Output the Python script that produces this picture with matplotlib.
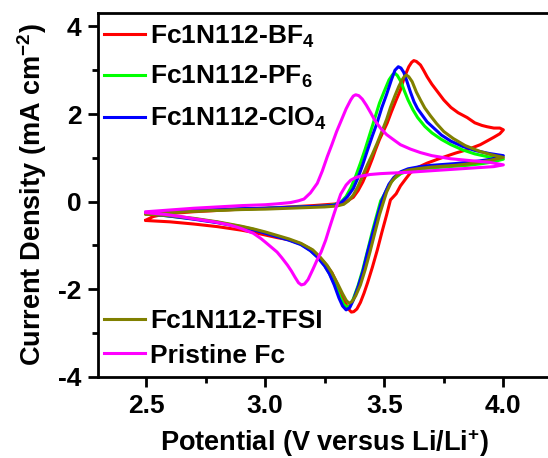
import matplotlib
matplotlib.use('Agg')
import matplotlib.pyplot as plt
from matplotlib.ticker import MultipleLocator

# ---------------- data ----------------
labels = [r'Fc1N112-BF$_\mathbf{4}$', r'Fc1N112-PF$_\mathbf{6}$', r'Fc1N112-ClO$_\mathbf{4}$',
          'Fc1N112-TFSI', 'Pristine Fc']
colors = ['#ff0000', '#00ff00', '#0000ff', '#808000', '#ff00ff']

# BF4 (red): forward then reverse scan
bf4_v = [2.50, 2.53, 2.58, 2.70, 2.80, 2.90, 3.00, 3.10, 3.20, 3.25, 3.30, 3.34, 3.37, 3.39, 3.41,
         3.43, 3.45, 3.463, 3.48, 3.50, 3.512, 3.53, 3.55, 3.568, 3.585, 3.603, 3.615, 3.624, 3.635,
         3.652, 3.665, 3.68, 3.70, 3.725, 3.75, 3.78, 3.81, 3.848, 3.88, 3.91, 3.932, 3.96, 3.985, 4.00,
         3.985, 3.96, 3.93, 3.903, 3.85, 3.80, 3.778, 3.73, 3.68, 3.64, 3.61, 3.59, 3.568, 3.55, 3.526,
         3.51, 3.49, 3.471, 3.45, 3.43, 3.415, 3.40, 3.385, 3.372, 3.362, 3.35, 3.335, 3.32, 3.30, 3.28,
         3.25, 3.22, 3.19, 3.15, 3.10, 3.05, 3.00, 2.95, 2.90, 2.85, 2.80, 2.70, 2.60, 2.50]
bf4_i = [-0.42, -0.34, -0.28, -0.23, -0.20, -0.17, -0.15, -0.12, -0.09, -0.07, -0.05, 0.00, 0.10, 0.25, 0.45,
         0.70, 0.98, 1.18, 1.42, 1.65, 1.79, 2.05, 2.32, 2.55, 2.85, 3.08, 3.18, 3.22, 3.20,
         3.12, 3.00, 2.85, 2.68, 2.50, 2.32, 2.15, 2.03, 1.92, 1.80, 1.74, 1.71, 1.68, 1.68, 1.64,
         1.55, 1.47, 1.38, 1.30, 1.19, 1.11, 1.07, 0.98, 0.88, 0.78, 0.66, 0.52, 0.36, 0.18, 0.04,
         -0.30, -0.70, -1.10, -1.50, -1.85, -2.09, -2.30, -2.45, -2.51, -2.52, -2.45, -2.30, -2.10, -1.85, -1.62,
         -1.40, -1.22, -1.08, -0.96, -0.87, -0.82, -0.76, -0.70, -0.65, -0.61, -0.57, -0.51, -0.46, -0.43]

# PF6 (green)
pf6_v = [2.50, 2.60, 2.70, 2.80, 2.90, 3.00, 3.10, 3.20, 3.25, 3.29, 3.32, 3.34, 3.36, 3.38, 3.40,
         3.42, 3.44, 3.46, 3.48, 3.50, 3.52, 3.535, 3.545, 3.555, 3.57, 3.585, 3.60, 3.62, 3.64, 3.67,
         3.70, 3.74, 3.78, 3.83, 3.88, 3.94, 4.00,
         3.95, 3.90, 3.85, 3.80, 3.75, 3.70, 3.65, 3.60, 3.57, 3.54, 3.52, 3.50, 3.485, 3.47, 3.45,
         3.43, 3.41, 3.39, 3.37, 3.355, 3.345, 3.33, 3.315, 3.295, 3.27, 3.25, 3.22, 3.19, 3.15, 3.10,
         3.05, 3.00, 2.95, 2.90, 2.85, 2.80, 2.70, 2.60, 2.50]
pf6_i = [-0.27, -0.24, -0.21, -0.19, -0.17, -0.15, -0.13, -0.11, -0.10, -0.07, 0.00, 0.12, 0.32, 0.58, 0.88,
         1.20, 1.55, 1.90, 2.25, 2.52, 2.78, 2.90, 2.93, 2.88, 2.74, 2.52, 2.32, 2.10, 1.92, 1.72,
         1.57, 1.42, 1.30, 1.18, 1.09, 1.02, 0.97,
         0.90, 0.86, 0.83, 0.81, 0.79, 0.77, 0.75, 0.70, 0.64, 0.52, 0.38, 0.16, 0.02, -0.28, -0.68,
         -1.12, -1.55, -1.92, -2.22, -2.38, -2.41, -2.34, -2.18, -1.92, -1.64, -1.46, -1.26, -1.11, -0.97, -0.87,
         -0.79, -0.71, -0.63, -0.57, -0.52, -0.47, -0.39, -0.33, -0.27]

# ClO4 (blue)
clo4_v = [2.50, 2.60, 2.70, 2.80, 2.90, 3.00, 3.10, 3.20, 3.25, 3.29, 3.32, 3.345, 3.37, 3.39, 3.41,
          3.43, 3.45, 3.47, 3.49, 3.51, 3.53, 3.545, 3.559, 3.57, 3.582, 3.595, 3.61, 3.625, 3.64, 3.66,
          3.68, 3.70, 3.74, 3.78, 3.83, 3.88, 3.94, 4.00,
          3.95, 3.90, 3.85, 3.80, 3.75, 3.70, 3.65, 3.60, 3.568, 3.54, 3.52, 3.50, 3.49, 3.47, 3.45,
          3.43, 3.41, 3.39, 3.37, 3.355, 3.34, 3.325, 3.31, 3.29, 3.27, 3.25, 3.22, 3.19, 3.15, 3.10,
          3.05, 3.00, 2.95, 2.90, 2.85, 2.80, 2.70, 2.60, 2.50]
clo4_i = [-0.26, -0.23, -0.20, -0.18, -0.16, -0.15, -0.13, -0.11, -0.10, -0.08, -0.02, 0.11, 0.30, 0.55, 0.85,
          1.18, 1.50, 1.80, 2.15, 2.45, 2.78, 3.00, 3.08, 3.05, 2.95, 2.75, 2.50, 2.28, 2.12, 1.97,
          1.82, 1.72, 1.52, 1.38, 1.26, 1.17, 1.10, 1.05,
          0.97, 0.93, 0.90, 0.87, 0.85, 0.83, 0.80, 0.75, 0.68, 0.55, 0.40, 0.16, 0.02, -0.35, -0.75,
          -1.15, -1.60, -1.95, -2.25, -2.42, -2.47, -2.38, -2.20, -1.90, -1.65, -1.47, -1.27, -1.12, -0.98, -0.88,
          -0.80, -0.72, -0.64, -0.58, -0.53, -0.48, -0.40, -0.33, -0.27]

# TFSI (olive)
tfsi_v = [2.50, 2.60, 2.70, 2.80, 2.90, 3.00, 3.10, 3.20, 3.25, 3.30, 3.33, 3.35, 3.37, 3.39, 3.41,
          3.43, 3.45, 3.47, 3.49, 3.51, 3.526, 3.545, 3.561, 3.575, 3.585, 3.593, 3.603, 3.617, 3.635,
          3.652, 3.67, 3.694, 3.72, 3.75, 3.79, 3.84, 3.90, 3.95, 4.00,
          3.95, 3.90, 3.85, 3.80, 3.75, 3.70, 3.65, 3.60, 3.57, 3.55, 3.53, 3.51, 3.50, 3.48, 3.46,
          3.44, 3.42, 3.40, 3.38, 3.365, 3.352, 3.34, 3.325, 3.305, 3.28, 3.26, 3.23, 3.20, 3.15, 3.10,
          3.05, 3.00, 2.95, 2.90, 2.85, 2.80, 2.70, 2.60, 2.50]
tfsi_i = [-0.28, -0.25, -0.22, -0.20, -0.18, -0.17, -0.15, -0.13, -0.12, -0.10, -0.06, 0.02, 0.15, 0.35, 0.60,
          0.85, 1.08, 1.33, 1.60, 1.88, 2.15, 2.42, 2.63, 2.78, 2.86, 2.89, 2.85, 2.74, 2.50,
          2.32, 2.14, 1.96, 1.78, 1.60, 1.44, 1.28, 1.15, 1.07, 1.01,
          0.95, 0.90, 0.86, 0.83, 0.81, 0.79, 0.76, 0.72, 0.66, 0.58, 0.45, 0.22, 0.05, -0.30, -0.72,
          -1.15, -1.55, -1.90, -2.15, -2.28, -2.32, -2.25, -2.10, -1.88, -1.62, -1.45, -1.26, -1.10, -0.95, -0.85,
          -0.77, -0.69, -0.62, -0.56, -0.51, -0.46, -0.38, -0.32, -0.28]

# Pristine Fc (magenta)
fc_v = [2.50, 2.60, 2.70, 2.80, 2.90, 3.00, 3.05, 3.107, 3.14, 3.163, 3.19, 3.219, 3.24, 3.261, 3.28,
        3.30, 3.317, 3.34, 3.359, 3.37, 3.38, 3.393, 3.408, 3.425, 3.443, 3.46, 3.484, 3.51, 3.54, 3.568,
        3.61, 3.652, 3.70, 3.778, 3.875, 3.94, 4.00,
        3.96, 3.848, 3.708, 3.60, 3.52, 3.484, 3.44, 3.40, 3.38, 3.359, 3.34, 3.317, 3.30, 3.289, 3.27,
        3.254, 3.235, 3.219, 3.20, 3.18, 3.165, 3.152, 3.14, 3.125, 3.11, 3.094, 3.07, 3.05, 3.024, 3.00,
        2.982, 2.95, 2.898, 2.85, 2.786, 2.70, 2.647, 2.58, 2.50]
fc_i = [-0.23, -0.19, -0.15, -0.12, -0.09, -0.07, -0.05, -0.02, 0.02, 0.06, 0.20, 0.42, 0.70, 1.03, 1.30,
        1.60, 1.82, 2.12, 2.32, 2.41, 2.44, 2.42, 2.34, 2.20, 2.03, 1.86, 1.68, 1.53, 1.41, 1.30,
        1.20, 1.12, 1.05, 0.98, 0.93, 0.90, 0.84,
        0.80, 0.76, 0.71, 0.67, 0.65, 0.64, 0.62, 0.58, 0.55, 0.49, 0.38, 0.17, -0.10, -0.28, -0.60,
        -0.88, -1.15, -1.32, -1.55, -1.78, -1.88, -1.90, -1.85, -1.72, -1.58, -1.45, -1.28, -1.15, -1.03, -0.92,
        -0.84, -0.72, -0.61, -0.53, -0.46, -0.39, -0.34, -0.29, -0.25]

series_v = [bf4_v, pf6_v, clo4_v, tfsi_v, fc_v]
series_i = [bf4_i, pf6_i, clo4_i, tfsi_i, fc_i]

xlabel = r'Potential (V versus Li/Li$^\mathbf{+}$)'
ylabel = r'Current Density (mA cm$^\mathbf{-2}$)'

# ---------------- style ----------------
plt.rcParams['font.family'] = ['Liberation Sans', 'DejaVu Sans']
plt.rcParams['font.weight'] = 'bold'
plt.rcParams['mathtext.fontset'] = 'custom'
plt.rcParams['mathtext.rm'] = 'Liberation Sans:bold'
plt.rcParams['mathtext.bf'] = 'Liberation Sans:bold'
plt.rcParams['mathtext.it'] = 'Liberation Sans:bold'
plt.rcParams['axes.unicode_minus'] = False

fig = plt.figure(figsize=(5.48, 4.58), dpi=100)
ax = fig.add_axes([0.1795, 0.177, 0.826, 0.795])

lines = []
for v, i, c, lab in zip(series_v, series_i, colors, labels):
    ln, = ax.plot(v, i, color=c, lw=2.2, label=lab, solid_joinstyle='round')
    lines.append(ln)

ax.set_xlim(2.3, 4.2)
ax.set_ylim(-4, 4.31)
ax.xaxis.set_major_locator(MultipleLocator(0.5))
ax.xaxis.set_minor_locator(MultipleLocator(0.25))
ax.yaxis.set_major_locator(MultipleLocator(2))
ax.yaxis.set_minor_locator(MultipleLocator(1))
ax.tick_params(which='both', direction='out', width=2, labelsize=19, top=False, right=False)
ax.tick_params(which='major', length=7, pad=5)
ax.tick_params(which='minor', length=4)
for lbl in ax.get_xticklabels() + ax.get_yticklabels():
    lbl.set_fontweight('bold')
for s in ax.spines.values():
    s.set_linewidth(2)

ax.set_xlabel(xlabel, fontsize=19.5, fontweight='bold', labelpad=7)
ax.set_ylabel(ylabel, fontsize=19.5, fontweight='bold', labelpad=7)

leg1 = ax.legend(handles=lines[:3], loc='upper left', bbox_to_anchor=(0.0, 0.985), frameon=False,
                 prop={'size': 19, 'weight': 'bold'}, handlelength=1.55, handletextpad=0.2,
                 labelspacing=0.55, borderaxespad=0.0, borderpad=0.2)
ax.add_artist(leg1)
ax.legend(handles=lines[3:], loc='lower left', bbox_to_anchor=(0.0, 0.011), frameon=False,
          prop={'size': 19, 'weight': 'bold'}, handlelength=1.55, handletextpad=0.2,
          labelspacing=0.4, borderaxespad=0.0, borderpad=0.2)

fig.savefig('out.png', dpi=100)
